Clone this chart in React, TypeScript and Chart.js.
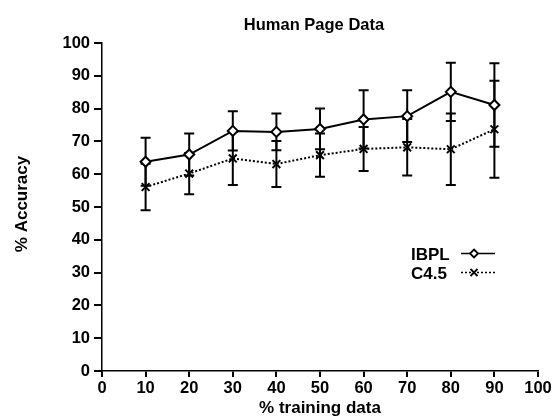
import React, { useEffect, useRef } from "react";
import { Chart, registerables } from "chart.js";

Chart.register(...registerables);

const TITLE = "Human Page Data";
const X_TITLE = "% training data";
const Y_TITLE = "% Accuracy";
const TRAINING = [10, 20, 30, 40, 50, 60, 70, 80, 90];
const IBPL = [63.8, 66.0, 73.2, 72.9, 73.8, 76.7, 77.7, 85.1, 81.1];
const IBPL_ERR = [7.3, 6.4, 6.0, 5.6, 6.2, 8.9, 7.9, 8.9, 12.7];
const C45 = [56.1, 60.2, 64.8, 63.1, 65.8, 67.7, 68.2, 67.6, 73.7];
const C45_ERR = [7.1, 6.3, 8.1, 7.0, 6.6, 6.7, 8.6, 10.9, 14.8];
const SERIES_LABELS = ["IBPL", "C4.5"];

const FONT = "'Liberation Sans', Arial, Helvetica, sans-serif";

const errorBarPlugin = {
  id: "errorBars",
  beforeDatasetsDraw(chart: any) {
    const ctx = chart.ctx;
    const xs = chart.scales.x;
    const ys = chart.scales.y;
    const sets = [
      { v: IBPL, e: IBPL_ERR },
      { v: C45, e: C45_ERR },
    ];
    ctx.save();
    ctx.strokeStyle = "#000";
    ctx.lineWidth = 2;
    ctx.setLineDash([]);
    sets.forEach((s) => {
      s.v.forEach((val, i) => {
        const px = xs.getPixelForValue(TRAINING[i]);
        const top = ys.getPixelForValue(val + s.e[i]);
        const bot = ys.getPixelForValue(val - s.e[i]);
        ctx.beginPath();
        ctx.moveTo(px, top);
        ctx.lineTo(px, bot);
        ctx.moveTo(px - 5, top);
        ctx.lineTo(px + 5, top);
        ctx.moveTo(px - 5, bot);
        ctx.lineTo(px + 5, bot);
        ctx.stroke();
      });
    });
    ctx.restore();
  },
};

const decorPlugin = {
  id: "decor",
  afterDraw(chart: any) {
    const ctx = chart.ctx;
    const a = chart.chartArea;
    ctx.save();
    ctx.fillStyle = "#000";
    ctx.textBaseline = "alphabetic";
    // title
    ctx.font = `bold 16.5px ${FONT}`;
    ctx.textAlign = "center";
    ctx.fillText(TITLE, (a.left + a.right) / 2 - 6, 30);
    // x title
    ctx.font = `bold 17px ${FONT}`;
    ctx.fillText(X_TITLE, (a.left + a.right) / 2, 413);
    // y title
    ctx.save();
    ctx.translate(27, (a.top + a.bottom) / 2 - 3);
    ctx.rotate(-Math.PI / 2);
    ctx.fillText(Y_TITLE, 0, 0);
    ctx.restore();
    // legend
    const lx = a.right - 127;
    const rows = [253.5, 272.5];
    ctx.textAlign = "left";
    ctx.font = `bold 17px ${FONT}`;
    rows.forEach((ry, i) => {
      ctx.fillText(SERIES_LABELS[i], lx, ry + 6.5);
      const sx0 = lx + 50;
      const sx1 = lx + 84;
      const mx = lx + 63;
      ctx.strokeStyle = "#000";
      ctx.lineWidth = 1.6;
      ctx.setLineDash(i === 0 ? [] : [2, 2]);
      ctx.beginPath();
      ctx.moveTo(sx0, ry);
      ctx.lineTo(sx1, ry);
      ctx.stroke();
      ctx.setLineDash([]);
      ctx.lineWidth = 1.8;
      ctx.beginPath();
      if (i === 0) {
        ctx.fillStyle = "#fff";
        ctx.moveTo(mx, ry - 4);
        ctx.lineTo(mx + 4, ry);
        ctx.lineTo(mx, ry + 4);
        ctx.lineTo(mx - 4, ry);
        ctx.closePath();
        ctx.fill();
        ctx.stroke();
        ctx.fillStyle = "#000";
      } else {
        ctx.moveTo(mx - 3.5, ry - 3.5);
        ctx.lineTo(mx + 3.5, ry + 3.5);
        ctx.moveTo(mx + 3.5, ry - 3.5);
        ctx.lineTo(mx - 3.5, ry + 3.5);
        ctx.stroke();
      }
    });
    ctx.restore();
  },
};

export default function App() {
  const ref = useRef<HTMLCanvasElement | null>(null);
  useEffect(() => {
    if (!ref.current) return;
    const chart = new Chart(ref.current, {
      type: "scatter",
      data: {
        datasets: [
          {
            label: SERIES_LABELS[0],
            data: TRAINING.map((x, i) => ({ x, y: IBPL[i] })),
            showLine: true,
            borderColor: "#000",
            borderWidth: 2,
            pointStyle: "rectRot",
            pointRadius: 5,
            pointBorderWidth: 2,
            pointBackgroundColor: "#fff",
            pointBorderColor: "#000",
          },
          {
            label: SERIES_LABELS[1],
            data: TRAINING.map((x, i) => ({ x, y: C45[i] })),
            showLine: true,
            borderColor: "#000",
            borderWidth: 2,
            borderDash: [2, 2],
            pointStyle: "crossRot",
            pointRadius: 5.5,
            pointBorderWidth: 2,
            pointBorderColor: "#000",
          },
        ],
      },
      options: {
        responsive: false,
        animation: false,
        layout: { padding: { top: 43, right: 18, left: 0, bottom: 0 } },
        plugins: {
          legend: { display: false },
          title: { display: false },
          tooltip: { enabled: false },
        },
        scales: {
          x: {
            type: "linear",
            min: 0,
            max: 100,
            afterFit: (s: any) => {
              s.height = 45;
            },
            ticks: {
              stepSize: 10,
              color: "#000",
              padding: 2,
              font: { family: FONT, size: 16.5, weight: "bold" },
            },
            grid: {
              display: true,
              drawOnChartArea: false,
              drawTicks: true,
              tickLength: 6,
              tickColor: "#000",
              lineWidth: 2,
            },
            border: { display: true, color: "#000", width: 1.5, dash: [2, 2] },
          },
          y: {
            type: "linear",
            min: 0,
            max: 100,
            afterFit: (s: any) => {
              s.width = 102;
            },
            ticks: {
              stepSize: 10,
              color: "#000",
              padding: 4,
              font: { family: FONT, size: 16.5, weight: "bold" },
            },
            grid: {
              display: true,
              drawOnChartArea: false,
              drawTicks: true,
              tickLength: 8,
              tickColor: "#000",
              lineWidth: 2,
            },
            border: { display: true, color: "#000", width: 1.5, dash: [2, 2] },
          },
        },
      },
      plugins: [errorBarPlugin, decorPlugin],
    } as any);
    return () => chart.destroy();
  }, []);
  return (
    <div style={{ position: "fixed", left: 0, top: 0, width: 556, height: 416, background: "#fff" }}>
      <canvas ref={ref} width={556} height={416} style={{ display: "block" }} />
    </div>
  );
}
